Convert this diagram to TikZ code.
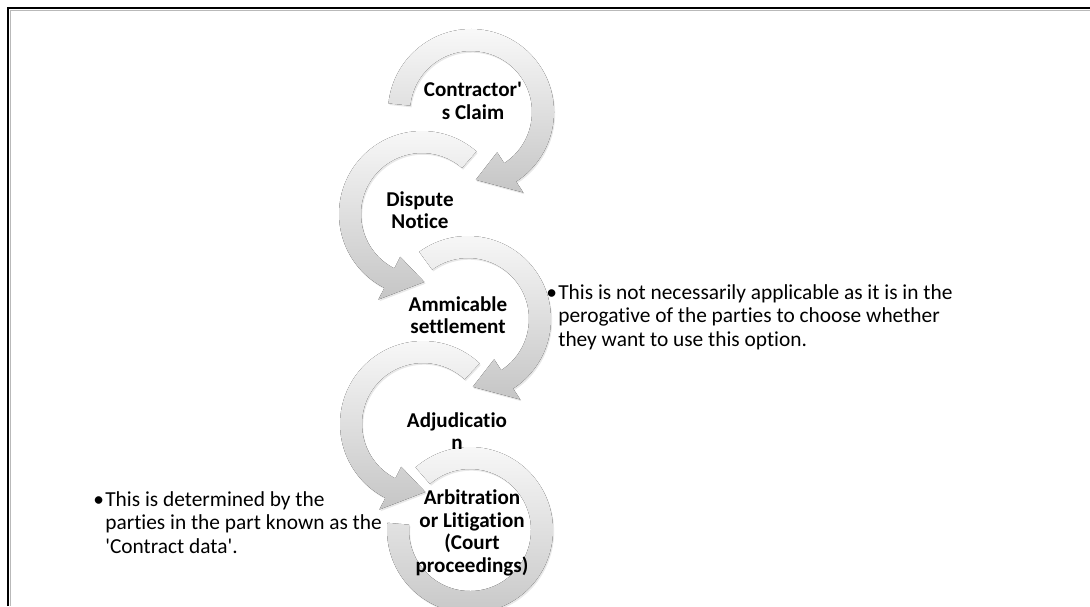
\documentclass[tikz,border=0pt]{standalone}
\usepackage{fontspec}
\setmainfont{Carlito}[Ligatures={TeXOff,NoCommon}]
\usetikzlibrary{shadows}

% ring sizes (in px units of the picture)
\newcommand{\ro}{83}
\newcommand{\ri}{61}
\newcommand{\rob}{96}
\newcommand{\rib}{48}

\tikzset{
  ring/.style={top color=gray!4, bottom color=gray!45, draw=none,
    drop shadow={shadow xshift=0.8pt, shadow yshift=-1.2pt, opacity=0.18}},
  steplabel/.style={font=\fontsize{15}{16}\selectfont\bfseries, align=center, inner sep=0pt},
  note/.style={font=\fontsize{15.2}{16.7}\selectfont, anchor=west, inner sep=0pt}
}

% centre x, centre y, start angle, base angle, tip angle, tip radius
\newcommand{\ringarrow}[6]{%
  \fill[ring, shift={(#1,#2)}] (#3:\ro) arc[start angle=#3, end angle=#4, radius=\ro]
    -- (#4:\rob) -- (#5:#6) -- (#4:\rib) -- (#4:\ri)
    arc[start angle=#4, end angle=#3, radius=\ri] -- cycle;
}

\begin{document}
\begin{tikzpicture}[x=0.025cm, y=-0.025cm]
    \fill[white] (0,0) rectangle (1090,606);
    \useasboundingbox (0,0) rectangle (1090,606);
    % Rahmen
    \draw[gray!55, line width=0.8pt] (10.5,606) -- (10.5,10.5) -- (1090,10.5);
    \draw[line width=1.5pt] (8,606) -- (8,8) -- (1090,8);

    % Pfeile, von unten nach oben
    \fill[ring, shift={(470,530)}] (229:\ro) arc[start angle=229, end angle=545, radius=\ro]
        -- (545:\ri) arc[start angle=545, end angle=229, radius=\ri] -- cycle;
    \ringarrow{423}{424}{-47}{-243}{-272}{68}
    \ringarrow{468}{319}{234}{417}{446}{68}
    \ringarrow{422}{214}{-49}{-243}{-272}{68}
    \ringarrow{471}{112}{186}{417}{446}{68}

    % Texte
    \node[steplabel] (claim) at (473,101) {Contractor'\\s Claim};
    \node[steplabel] (notice) at (420,210) {Dispute\\Notice};
    \node[steplabel] (settle) at (458,315) {Ammicable\\settlement};
    \node[steplabel] (adjud) at (457,431) {Adjudicatio\\n};
    \node[steplabel] (arbit) at (472,533) {Arbitration\\or Litigation\\(Court\\proceedings)};

    \node[note] (optnote) at (546,318) {\begin{tabular}{@{}l@{\hspace{1pt}}l@{}}
        \textbullet & This is not necessarily applicable as it is in the\\
        & perogative of the parties to choose whether\\
        & they want to use this option.\end{tabular}};
    \node[note] (datanote) at (93,525) {\begin{tabular}{@{}l@{\hspace{1pt}}l@{}}
        \textbullet & This is determined by the\\
        & parties in the part known as the\\
        & 'Contract data'.\end{tabular}};
\end{tikzpicture}
\end{document}
